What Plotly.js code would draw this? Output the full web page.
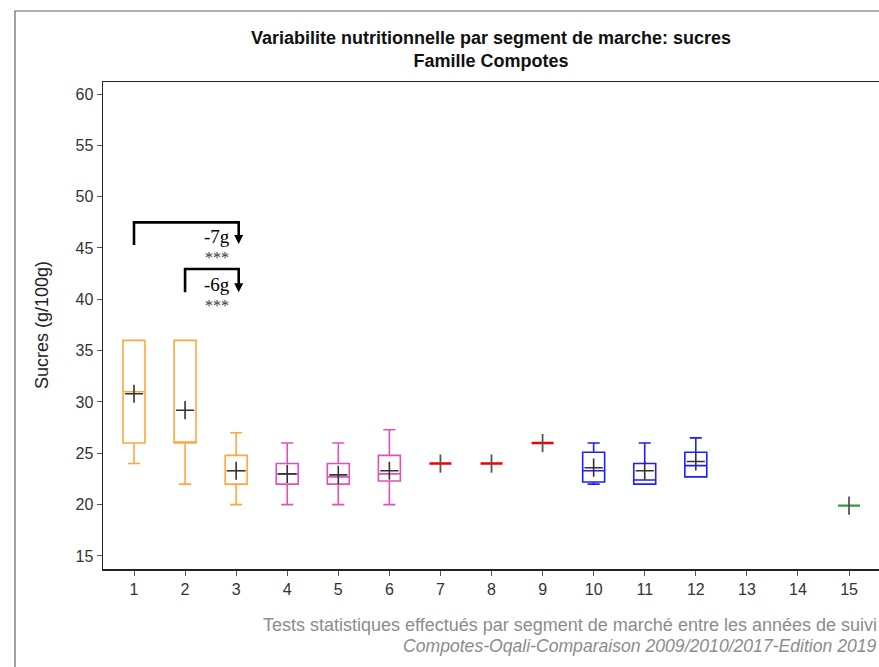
<!DOCTYPE html>
<html>
<head>
<meta charset="utf-8">
<script src="https://cdn.plot.ly/plotly-3.0.1.min.js"></script>
<style>html,body{margin:0;padding:0;background:#fff;}#chart{width:879px;height:667px;}</style>
</head>
<body>
<div id="chart"></div>
<script>
// Segments (x positions)
const orangeX = [1, 2, 3];
const orangeQ1 = [26, 26, 22];
const orangeMed = [31, 26, 23.3];
const orangeQ3 = [36, 36, 24.8];
const orangeLo = [24, 22, 20];
const orangeHi = [36, 36, 27];

const pinkX = [4, 5, 6];
const pinkQ1 = [22, 22, 22.3];
const pinkMed = [23, 22.7, 23];
const pinkQ3 = [24, 24, 24.8];
const pinkLo = [20, 20, 20];
const pinkHi = [26, 26, 27.3];

const redX = [7, 8, 9];
const redVal = [24, 24, 26];

const blueX = [10, 11, 12];
const blueQ1 = [22.2, 22, 22.7];
const blueMed = [23.3, 22.4, 23.8];
const blueQ3 = [25.1, 24, 25.1];
const blueLo = [22, 22, 22.7];
const blueHi = [26, 26, 26.5];

const greenX = [15];
const greenVal = [19.9];

// Means of the box segments and of the single-value segments
const meanX = [1, 2, 3, 4, 5, 6, 10, 11, 12];
const meanY = [30.8, 29.2, 23.3, 23.0, 22.9, 23.3, 23.6, 23.3, 24.2];
const singleMeanX = [7, 8, 9, 15];
const singleMeanY = [24, 24, 26, 19.9];

const xTicks = [1,2,3,4,5,6,7,8,9,10,11,12,13,14,15];
const yTicks = [15,20,25,30,35,40,45,50,55,60];

// Comparison brackets
const brackets = [
  {x0: 1, x1: 3.05, yb: 45.3, yt: 47.5, ya: 45.4, label: '-7g', sig: '***'},
  {x0: 2, x1: 3.05, yb: 40.7, yt: 42.95, ya: 40.7, label: '-6g', sig: '***'}
];

const BW = 0.43, WW = 0.55;
function boxTrace(x, q1, med, q3, lo, hi, color, w) {
  return {type: 'box', x: x, q1: q1, median: med, q3: q3, lowerfence: lo, upperfence: hi,
    width: BW, whiskerwidth: WW, boxpoints: false, fillcolor: 'rgba(0,0,0,0)',
    line: {color: color, width: w || 1.6}, hoverinfo: 'skip', showlegend: false};
}

const traces = [
  boxTrace(orangeX, orangeQ1, orangeMed, orangeQ3, orangeLo, orangeHi, 'rgba(255,150,30,0.85)'),
  boxTrace(pinkX, pinkQ1, pinkMed, pinkQ3, pinkLo, pinkHi, 'rgba(220,50,170,0.85)'),
  boxTrace(redX, redVal, redVal, redVal, redVal, redVal, 'rgb(240,0,0)', 2.6),
  boxTrace(blueX, blueQ1, blueMed, blueQ3, blueLo, blueHi, 'rgb(30,30,255)'),
  boxTrace(greenX, greenVal, greenVal, greenVal, greenVal, greenVal, 'rgb(60,150,60)', 2.2),
  {type: 'scatter', mode: 'markers', x: meanX, y: meanY, hoverinfo: 'skip', showlegend: false,
    marker: {symbol: 'cross-thin', size: 13, color: '#333', line: {width: 1.6, color: '#333'}}},
  {type: 'scatter', mode: 'markers', x: singleMeanX, y: singleMeanY, hoverinfo: 'skip', showlegend: false,
    marker: {symbol: 'line-ns', size: 13, color: '#555', line: {width: 1.8, color: '#555'}}}
];

const shapes = [
  {type: 'rect', xref: 'paper', yref: 'paper', x0: -0.1134, x1: 1.2, y0: -0.4, y1: 1.1458,
    line: {color: '#666', width: 1.2}, fillcolor: 'rgba(0,0,0,0)', layer: 'below'}
];
const annotations = [];
const serif = 'Liberation Serif, DejaVu Serif, serif';
brackets.forEach(b => {
  shapes.push({type: 'path', xref: 'x', yref: 'y',
    path: `M ${b.x0} ${b.yb} L ${b.x0} ${b.yt} L ${b.x1} ${b.yt} L ${b.x1} ${b.ya + 0.8}`,
    line: {color: '#000', width: 2.6}});
  annotations.push({xref: 'x', yref: 'y', x: b.x1, y: b.ya, ax: b.x1, ay: b.ya + 1.0,
    axref: 'x', ayref: 'y', showarrow: true, arrowhead: 2, arrowsize: 0.75, arrowwidth: 2.4,
    arrowcolor: '#000', text: ''});
  annotations.push({xref: 'x', yref: 'y', x: 2.62, y: b.ya + 0.75, text: b.label, showarrow: false,
    xanchor: 'center', yanchor: 'middle', font: {family: serif, size: 19, color: '#000'}});
  annotations.push({xref: 'x', yref: 'y', x: 2.62, y: b.ya - 1.3, text: b.sig, showarrow: false,
    xanchor: 'center', yanchor: 'middle', font: {family: serif, size: 16, color: '#333'}});
});

const sans = 'Liberation Sans, Arial, sans-serif';
annotations.push({xref: 'paper', yref: 'paper', x: (42 - 103) / 776, y: (569 - 325) / 487,
  text: 'Sucres (g/100g)', textangle: -90, showarrow: false, xanchor: 'center', yanchor: 'middle',
  font: {family: sans, size: 18, color: '#222'}});
annotations.push({xref: 'paper', yref: 'paper', x: 1, y: (569 - 625) / 487,
  text: 'Tests statistiques effectués par segment de marché entre les années de suivi', showarrow: false,
  xanchor: 'right', yanchor: 'middle', font: {family: sans, size: 18, color: '#8c8c8c'}});
annotations.push({xref: 'paper', yref: 'paper', x: 1, y: (569 - 646) / 487,
  text: '<i>Compotes-Oqali-Comparaison 2009/2010/2017-Edition 2019</i>', showarrow: false,
  xanchor: 'right', yanchor: 'middle', font: {family: sans, size: 17.6, color: '#8c8c8c'}});

const layout = {
  width: 879, height: 667,
  margin: {l: 103, r: 0, t: 82, b: 98, pad: 0},
  paper_bgcolor: '#fff', plot_bgcolor: '#fff',
  title: {text: '<b>Variabilite nutritionnelle par segment de marche: sucres</b><br><b>Famille Compotes</b>',
    x: 0.5, xref: 'paper', xanchor: 'center', y: 1 - 44 / 667, yanchor: 'middle',
    font: {family: sans, size: 18, color: '#111'}},
  xaxis: {range: [0.393, 15.587], tickvals: xTicks, ticktext: xTicks.map(String), showgrid: false, zeroline: false,
    showline: true, linecolor: '#222', linewidth: 1.5, mirror: true, ticks: 'outside', ticklen: 5, tickcolor: '#555',
    tickfont: {family: sans, size: 16, color: '#333'}},
  yaxis: {range: [13.73, 61.17], tickvals: yTicks, ticktext: yTicks.map(String), showgrid: false, zeroline: false,
    showline: true, linecolor: '#222', linewidth: 1.5, ticks: 'outside', ticklen: 5, tickcolor: '#555',
    tickfont: {family: sans, size: 16, color: '#333'}},
  shapes: shapes,
  annotations: annotations,
  showlegend: false
};

Plotly.newPlot('chart', traces, layout, {staticPlot: true, displayModeBar: false});
</script>
</body>
</html>
